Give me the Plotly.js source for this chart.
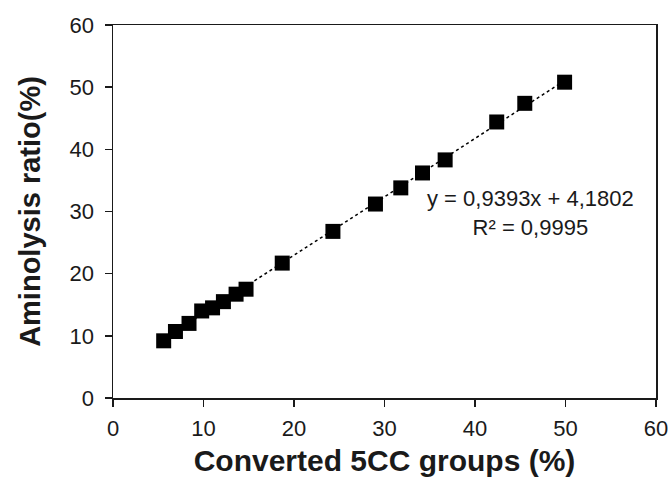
<!DOCTYPE html>
<html><head><meta charset="utf-8">
<script src="https://cdn.plot.ly/plotly-3.0.1.min.js"></script>
<style>html,body{margin:0;padding:0;background:#fff}#chart{width:671px;height:482px}</style>
</head><body><div id="chart"></div>
<script>
const convertedGroups = [5.6, 6.9, 8.4, 9.8, 11.0, 12.2, 13.6, 14.7, 18.7, 24.3, 29.0, 31.8, 34.2, 36.7, 42.4, 45.5, 49.9];
const aminolysisRatio = [9.2, 10.7, 12.0, 14.0, 14.5, 15.5, 16.7, 17.5, 21.7, 26.8, 31.2, 33.8, 36.2, 38.3, 44.4, 47.4, 50.8];
const fitSlope = 0.9393;
const fitIntercept = 4.1802;
const fitText = "y = 0,9393x + 4,1802<br>R² = 0,9995";
const xTitle = "Converted 5CC groups (%)";
const yTitle = "Aminolysis ratio(%)";

const xMin = Math.min(...convertedGroups), xMax = Math.max(...convertedGroups);
const fitX = [xMin, xMax];
const fitY = fitX.map(v => fitSlope * v + fitIntercept);

const font = "Liberation Sans, Arial, sans-serif";
const ink = '#1a1a1a';
const data = [
  {x: fitX, y: fitY, mode: 'lines', line: {color: '#000', width: 1.5, dash: 'dot'}, hoverinfo: 'skip'},
  {x: convertedGroups, y: aminolysisRatio, mode: 'markers',
   marker: {symbol: 'square', size: 15, color: '#000'}}
];
const axisCommon = {range: [0, 60], dtick: 10, showgrid: false, zeroline: false,
  showline: true, mirror: true, linecolor: ink, linewidth: 1.5,
  ticks: 'outside', ticklen: 7, tickcolor: ink, tickwidth: 1.5,
  tickfont: {size: 22, family: font, color: ink}};
const layout = {
  width: 671, height: 482, showlegend: false,
  paper_bgcolor: '#fff', plot_bgcolor: '#fff',
  margin: {l: 113, r: 15, t: 25, b: 84},
  font: {family: font, color: ink},
  xaxis: Object.assign({}, axisCommon, {ticklabelstandoff: 3,
    title: {text: '<b>' + xTitle + '</b>', font: {size: 30, family: font, color: ink}, standoff: 10}}),
  yaxis: Object.assign({}, axisCommon, {ticklabelstandoff: 6,
    title: {text: '<b>' + yTitle + '</b>', font: {size: 29, family: font, color: ink}, standoff: 20}}),
  annotations: [{x: 46.1, y: 29.8, xref: 'x', yref: 'y', text: fitText, showarrow: false,
    align: 'center', font: {size: 22, family: font, color: ink}}]
};
Plotly.newPlot('chart', data, layout, {displayModeBar: false, staticPlot: true});
</script></body></html>
